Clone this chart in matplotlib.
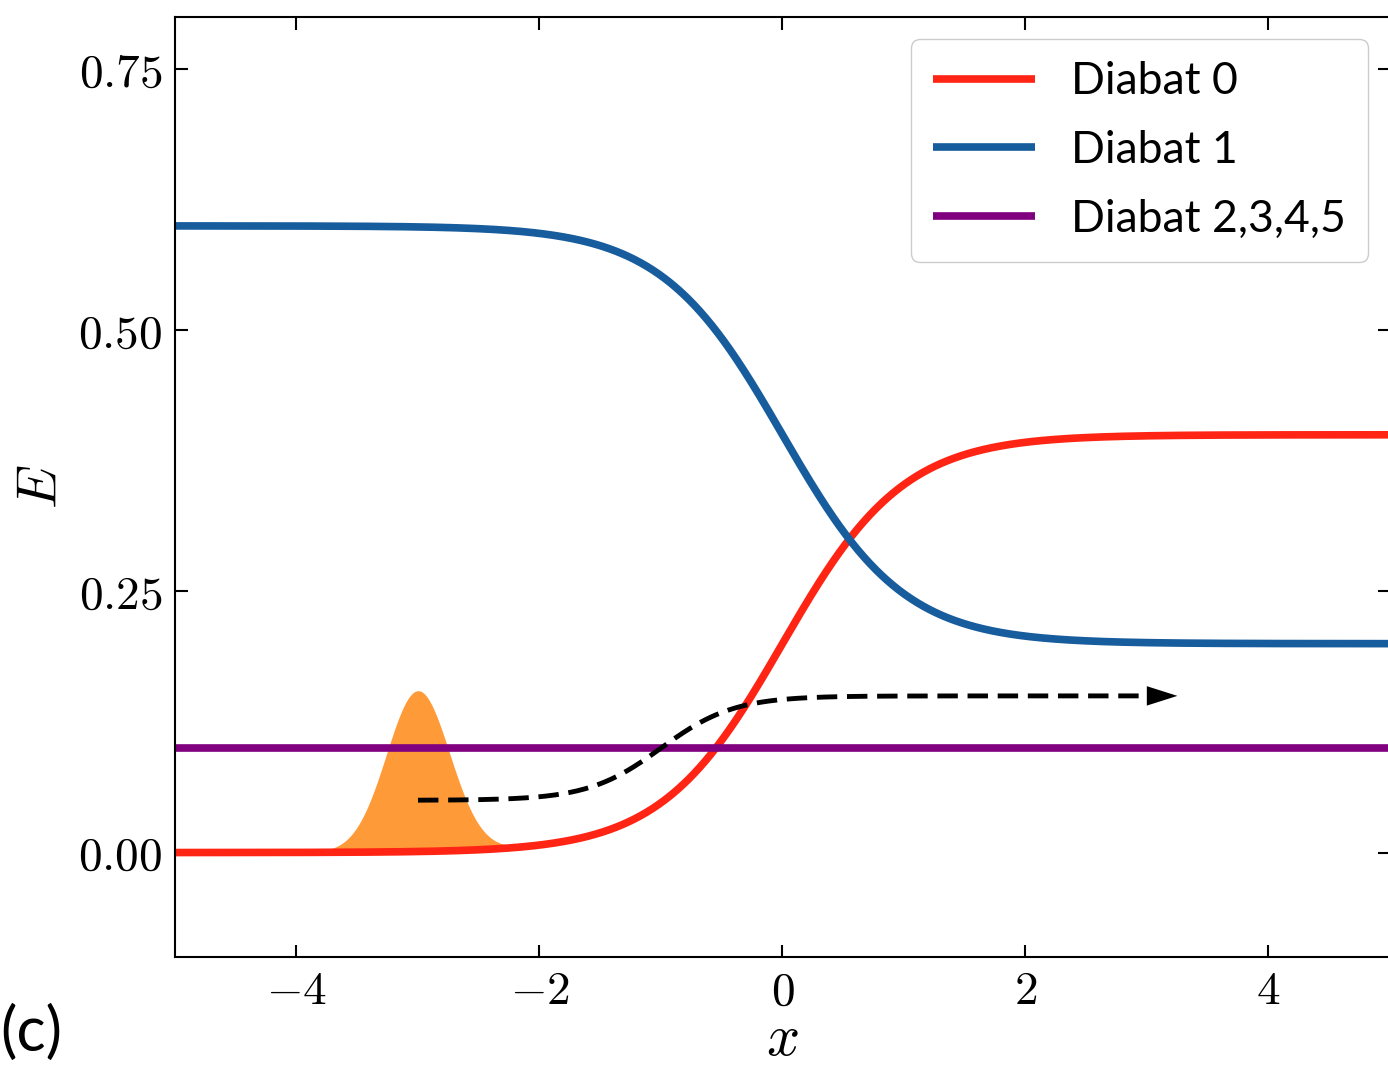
import matplotlib.pyplot as plt
import numpy as np

plt.rcParams['mathtext.fontset'] = 'cm'

# diabatic potentials: plateau on the left, plateau on the right
diabat_names = ['Diabat 0', 'Diabat 1', 'Diabat 2,3,4,5']
diabat_left = [0.0, 0.6, 0.1]
diabat_right = [0.4, 0.2, 0.1]
diabat_centre = 0.0
diabat_width = 1.0
diabat_colors = ['#ff2413', '#175c9c', '#800080']

# incoming wave packet
packet_centre = -3.0
packet_height = 0.154
packet_sigma = 0.26
packet_color = '#fe9a38'

# dashed path followed by the packet
path_x = [-3.0, 3.0]
path_y = [0.05, 0.15]
path_centre = -1.0
path_width = 0.6
arrow_tip = 3.25

x_ticks = [-4, -2, 0, 2, 4]
y_ticks = [0.0, 0.25, 0.5, 0.75]


def step(x, lo, hi, centre, width):
    return lo + (hi - lo) * 0.5 * (1 + np.tanh((x - centre) / width))


fig = plt.figure(figsize=(13.88, 10.68), dpi=100)
ax = fig.add_axes([175 / 1388, 111 / 1068, 1215 / 1388, 940 / 1068])

x = np.linspace(-5, 5, 1001)
ground = step(x, diabat_left[0], diabat_right[0], diabat_centre, diabat_width)

# wave packet sitting on the lower diabat
g = packet_height * np.exp(-(x - packet_centre) ** 2 / (2 * packet_sigma ** 2))
ax.fill_between(x, ground, ground + g, where=g > 2e-3, color=packet_color,
                lw=0, zorder=1)

for name, lo, hi, c in zip(diabat_names, diabat_left, diabat_right, diabat_colors):
    ax.plot(x, step(x, lo, hi, diabat_centre, diabat_width), color=c, lw=5.5,
            label=name, zorder=2, solid_capstyle='butt')

xp = np.linspace(path_x[0], path_x[1], 400)
ax.plot(xp, step(xp, path_y[0], path_y[1], path_centre, path_width),
        color='k', lw=3.5, dashes=(4.2, 2.0), zorder=3)
ax.annotate('', xy=(arrow_tip, path_y[1]), xytext=(path_x[1], path_y[1]),
            arrowprops=dict(arrowstyle='-|>,head_length=1.1,head_width=0.35',
                            color='k', lw=0, shrinkA=0, shrinkB=0,
                            mutation_scale=20), zorder=3)

ax.set_xlim(-5, 5)
ax.set_ylim(-0.1, 0.8)
ax.set_xticks(x_ticks, [f'${t}$' for t in x_ticks])
ax.set_yticks(y_ticks, [f'${t:.2f}$' for t in y_ticks])
ax.tick_params(direction='in', top=True, right=True, length=9, width=1.5,
               labelsize=34, pad=9)
for s in ax.spines.values():
    s.set_linewidth(1.5)

ax.set_xlabel('$x$', fontsize=42, labelpad=-3)
ax.set_ylabel('$E$', fontsize=40, labelpad=7)

ax.legend(loc='upper right', prop={'family': 'Lato', 'size': 32},
          handlelength=2.3, labelspacing=0.62, borderpad=0.5,
          edgecolor='0.8', framealpha=1)

fig.text(0.0, 0.033, '(c)', fontsize=44, family='Lato',
         ha='left', va='center')

fig.savefig('out.png', dpi=100)
